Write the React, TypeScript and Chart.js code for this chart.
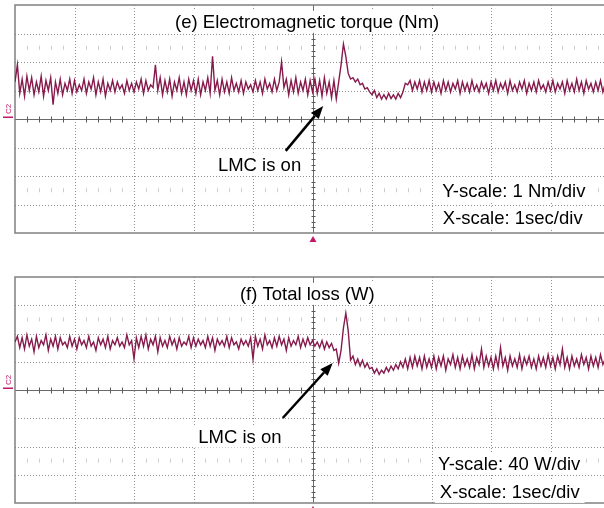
import React, { useEffect, useRef } from "react";
import { Chart, registerables } from "chart.js";
Chart.register(...registerables);

// time axis: 10 divisions (1 sec/div), sample step in divisions
const X_MIN = 0;
const X_MAX = 10;
const Y_MIN = -4;
const Y_MAX = 4;
const SAMPLE_STEP = 0.04;
const xGridValues = [1, 2, 3, 4, 6, 7, 8, 9];
const yGridValues = [-3, -2, -1, 1, 2, 3];
const faintRowValues = [2.5, -2.5];

// (e) electromagnetic torque, in divisions above the C2 reference line
const torqueValues = [
  1.3, 1.9, 0.9, 1.4, 0.8, 1.5, 1.0, 1.45, 0.85, 1.3, 0.95, 1.5, 0.8, 1.35, 1.0, 1.45, 0.5, 1.3, 0.9, 1.4, 0.85, 1.25, 1.0, 1.4, 0.9,
  1.35, 0.95, 1.2, 1.0, 1.4, 0.9, 1.3, 1.05, 1.45, 0.85, 1.3, 0.95, 1.4, 0.8, 1.25, 1.0, 1.35, 0.95, 1.3, 1.05, 1.2, 0.9, 1.35, 1.0, 1.25,
  0.95, 1.3, 1.05, 1.4, 0.9, 1.35, 1.0, 1.2, 1.1, 1.9, 1.0, 1.45, 0.85, 1.35, 0.95, 1.4, 0.8, 1.3, 1.0, 1.45, 0.9, 1.3, 0.85, 1.4, 1.0,
  1.35, 0.9, 1.4, 0.85, 1.3, 1.0, 1.45, 0.9, 2.2, 1.0, 1.35, 0.85, 1.4, 0.95, 1.3, 0.9, 1.45, 1.0, 1.25, 0.95, 1.35, 0.9, 1.3, 1.05, 1.2,
  0.95, 1.35, 1.0, 1.3, 0.9, 1.4, 1.05, 1.25, 0.95, 1.4, 1.0, 1.3, 2.0, 1.1, 1.4, 0.85, 1.35, 0.95, 1.45, 0.9, 1.3, 1.0, 1.4, 0.85, 1.35,
  0.95, 1.4, 0.9, 1.35, 0.8, 1.45, 0.9, 1.3, 0.75, 1.35, 0.7, 1.3, 1.9, 2.63, 2.2, 1.6, 1.4, 1.45, 1.3, 1.4, 1.2, 1.25, 1.05, 1.1, 0.95,
  0.85, 1.0, 0.75, 0.9, 0.7, 0.85, 0.7, 0.9, 0.72, 0.85, 0.7, 0.9, 0.75, 0.95, 1.25, 1.2, 1.35, 1.0, 1.3, 1.05, 1.35, 0.95, 1.3, 1.0, 1.35,
  0.95, 1.3, 1.0, 1.25, 0.9, 1.35, 1.0, 1.3, 0.95, 1.25, 1.05, 1.35, 0.9, 1.3, 1.0, 1.25, 0.95, 1.35, 1.0, 1.2, 0.95, 1.3, 1.05, 1.25, 0.9,
  1.3, 1.0, 1.35, 0.95, 1.25, 1.05, 1.3, 0.9, 1.35, 1.0, 1.2, 0.95, 1.3, 1.05, 1.35, 0.9, 1.25, 1.0, 1.3, 0.95, 1.35, 1.05, 1.2, 0.95, 1.3,
  1.0, 1.35, 0.95, 1.25, 1.05, 1.3, 0.9, 1.35, 1.0, 1.25, 0.95, 1.4, 1.0, 1.3, 0.9, 1.35, 1.05, 1.25, 0.95, 1.3, 1.0, 1.35, 0.95, 1.25, 1.05,
  1.1,
];

// (f) total loss, in divisions above the C2 reference line
const lossValues = [
  1.7, 1.9, 1.5, 1.85, 1.45, 1.95, 1.55, 1.8, 1.35, 1.9, 1.5, 1.75, 1.6, 1.95, 1.4, 1.8, 1.55, 1.9, 1.45, 1.85, 1.6, 1.7, 1.5, 1.9, 1.55,
  1.8, 1.45, 1.85, 1.6, 1.75, 1.5, 1.9, 1.55, 1.7, 1.4, 1.85, 1.6, 1.8, 1.5, 1.9, 1.45, 1.75, 1.6, 1.85, 1.55, 1.7, 1.5, 1.95, 1.6, 1.75,
  1.1, 1.85, 1.5, 1.9, 1.55, 1.95, 1.45, 1.8, 1.6, 1.9, 1.35, 1.85, 1.55, 1.75, 1.5, 1.9, 1.6, 1.8, 1.45, 1.85, 1.55, 1.7, 1.6, 1.9, 1.5,
  1.85, 1.55, 1.8, 1.6, 1.75, 1.5, 1.9, 1.55, 1.85, 1.4, 1.8, 1.6, 1.75, 1.55, 1.9, 1.5, 1.85, 1.6, 1.7, 1.45, 1.8, 1.6, 1.75, 1.55, 1.85,
  1.1, 1.9, 1.55, 1.8, 1.45, 1.95, 1.6, 1.75, 1.5, 1.85, 1.55, 1.9, 1.6, 1.8, 1.4, 1.85, 1.55, 1.75, 1.6, 1.9, 1.5, 1.8, 1.55, 1.85, 1.6,
  1.75, 1.55, 1.7, 1.5, 1.75, 1.45, 1.7, 1.5, 1.65, 1.4, 1.45, 0.95, 1.4, 2.2, 2.72, 2.1, 1.06, 1.2, 0.9, 1.1, 0.85, 1.05, 0.8, 0.95, 0.75,
  0.8, 0.6, 0.75, 0.55, 0.7, 0.6, 0.8, 0.65, 0.85, 0.7, 0.9, 0.75, 1.0, 0.8, 1.1, 0.75, 1.15, 0.8, 1.2, 0.85, 1.15, 0.75, 1.2, 0.8, 1.1,
  0.8, 1.2, 0.75, 1.15, 0.85, 1.2, 0.7, 1.1, 0.9, 1.25, 0.8, 1.15, 0.75, 1.2, 0.85, 1.1, 0.8, 1.25, 0.75, 1.15, 0.9, 1.45, 0.8, 1.2, 0.85,
  1.15, 0.75, 1.2, 0.8, 1.5, 0.85, 1.15, 0.7, 1.2, 0.85, 1.1, 0.8, 1.25, 0.75, 1.15, 0.9, 1.2, 0.8, 1.1, 0.75, 1.2, 0.85, 1.15, 0.8, 1.25,
  0.85, 1.15, 0.75, 1.2, 0.9, 1.45, 0.8, 1.15, 0.75, 1.2, 0.85, 1.1, 0.8, 1.25, 0.9, 1.15, 0.75, 1.2, 0.85, 1.15, 0.8, 1.25, 0.9, 1.1, 0.8,
  1.0,
];

// annotation texts (positions in data units: x divisions, y divisions at text baseline)
const torqueLabels = [
  { text: "(e) Electromagnetic torque (Nm)", x: 2.69, y: 3.2 },
  { text: "LMC is on", x: 3.41, y: -1.81 },
  { text: "Y-scale: 1 Nm/div", x: 7.18, y: -2.75 },
  { text: "X-scale: 1sec/div", x: 7.19, y: -3.68 },
];
const lossLabels = [
  { text: "(f) Total loss (W)", x: 3.78, y: 3.19 },
  { text: "LMC is on", x: 3.08, y: -1.86 },
  { text: "Y-scale: 40 W/div", x: 7.11, y: -2.83 },
  { text: "X-scale: 1sec/div", x: 7.14, y: -3.82 },
];
const torqueArrow = { from: [4.55, -1.12], to: [5.18, 0.46] };
const lossArrow = { from: [4.5, -0.99], to: [5.34, 0.96] };
const channelLabel = "C2";
const triggerPosition = 5;

const SIGNAL_COLOR = "#861a4c";
const MARKER_COLOR = "#c2186a";
const FONT = '"Liberation Sans", Arial, sans-serif';

type PanelCfg = {
  values: number[];
  labels: { text: string; x: number; y: number }[];
  arrow: { from: number[]; to: number[] };
  padding: { left: number; right: number; top: number; bottom: number };
};

function makeOscPlugin(cfg: PanelCfg) {
  return {
    id: "osc",
    beforeDatasetsDraw(chart: any) {
      const ctx = chart.ctx as CanvasRenderingContext2D;
      const { left, right, top, bottom } = chart.chartArea;
      const xs = chart.scales.x;
      const ys = chart.scales.y;
      ctx.save();
      // dotted grid
      ctx.strokeStyle = "#909090";
      ctx.lineWidth = 1;
      ctx.setLineDash([1, 2]);
      for (const v of xGridValues) {
        const x = Math.round(xs.getPixelForValue(v)) + 0.5;
        ctx.beginPath();
        ctx.moveTo(x, top);
        ctx.lineTo(x, bottom);
        ctx.stroke();
      }
      for (const v of yGridValues) {
        const y = Math.round(ys.getPixelForValue(v)) + 0.5;
        ctx.beginPath();
        ctx.moveTo(left, y);
        ctx.lineTo(right, y);
        ctx.stroke();
      }
      ctx.setLineDash([]);
      // faint minor-tick rows
      ctx.strokeStyle = "#cdcdcd";
      for (const r of faintRowValues) {
        const y = ys.getPixelForValue(r);
        for (let k = 1; k < 50; k++) {
          if (k % 5 === 0) continue;
          const x = Math.round(xs.getPixelForValue(k * 0.2)) + 0.5;
          ctx.beginPath();
          ctx.moveTo(x, y - 2);
          ctx.lineTo(x, y + 2);
          ctx.stroke();
        }
      }
      // center lines (solid)
      const cx = Math.round(xs.getPixelForValue(triggerPosition)) + 0.5;
      const cy = Math.round(ys.getPixelForValue(0)) + 0.5;
      ctx.strokeStyle = "#6a6a6a";
      ctx.lineWidth = 1;
      ctx.beginPath();
      ctx.moveTo(cx, top);
      ctx.lineTo(cx, bottom);
      ctx.moveTo(left, cy);
      ctx.lineTo(right, cy);
      ctx.stroke();
      // minor ticks on center lines
      ctx.strokeStyle = "#5a5a5a";
      for (let k = 1; k < 50; k++) {
        if (k % 5 === 0) continue;
        const x = Math.round(xs.getPixelForValue(k * 0.2)) + 0.5;
        ctx.beginPath();
        ctx.moveTo(x, cy - 3);
        ctx.lineTo(x, cy + 3);
        ctx.stroke();
      }
      for (let k = -19; k < 20; k++) {
        if (k % 5 === 0) continue;
        const y = Math.round(ys.getPixelForValue(k * 0.2)) + 0.5;
        ctx.beginPath();
        ctx.moveTo(cx - 2, y);
        ctx.lineTo(cx + 2, y);
        ctx.stroke();
      }
      // border
      ctx.strokeStyle = "#808080";
      ctx.lineWidth = 1.5;
      ctx.strokeRect(left, top, right - left, bottom - top);
      ctx.restore();
    },
    afterDatasetsDraw(chart: any) {
      const ctx = chart.ctx as CanvasRenderingContext2D;
      const { bottom } = chart.chartArea;
      const xs = chart.scales.x;
      const ys = chart.scales.y;
      ctx.save();
      // labels with white boxes
      ctx.font = `18.5px ${FONT}`;
      ctx.textAlign = "left";
      ctx.textBaseline = "alphabetic";
      for (const l of cfg.labels) {
        const x = xs.getPixelForValue(l.x);
        const y = ys.getPixelForValue(l.y);
        const w = ctx.measureText(l.text).width;
        ctx.fillStyle = "#ffffff";
        ctx.fillRect(x - 5, y - 17, w + 10, 22);
        ctx.fillStyle = "#000000";
        ctx.fillText(l.text, x, y);
      }
      // arrow
      const x1 = xs.getPixelForValue(cfg.arrow.from[0]);
      const y1 = ys.getPixelForValue(cfg.arrow.from[1]);
      const x2 = xs.getPixelForValue(cfg.arrow.to[0]);
      const y2 = ys.getPixelForValue(cfg.arrow.to[1]);
      const ang = Math.atan2(y2 - y1, x2 - x1);
      const headLen = 13;
      const headW = 5;
      const bx = x2 - headLen * Math.cos(ang);
      const by = y2 - headLen * Math.sin(ang);
      ctx.strokeStyle = "#000";
      ctx.fillStyle = "#000";
      ctx.lineWidth = 2.5;
      ctx.beginPath();
      ctx.moveTo(x1, y1);
      ctx.lineTo(bx, by);
      ctx.stroke();
      ctx.beginPath();
      ctx.moveTo(x2, y2);
      ctx.lineTo(bx + headW * Math.sin(ang), by - headW * Math.cos(ang));
      ctx.lineTo(bx - headW * Math.sin(ang), by + headW * Math.cos(ang));
      ctx.closePath();
      ctx.fill();
      // trigger marker
      const tx = xs.getPixelForValue(triggerPosition) + 0.5;
      ctx.fillStyle = MARKER_COLOR;
      ctx.beginPath();
      ctx.moveTo(tx, bottom + 3);
      ctx.lineTo(tx - 3.5, bottom + 9);
      ctx.lineTo(tx + 3.5, bottom + 9);
      ctx.closePath();
      ctx.fill();
      // channel label
      const cy = ys.getPixelForValue(0);
      ctx.fillStyle = MARKER_COLOR;
      ctx.fillRect(3, cy - 2.5, 10, 1.5);
      ctx.save();
      ctx.translate(11, cy - 5);
      ctx.rotate(-Math.PI / 2);
      ctx.font = `8px ${FONT}`;
      ctx.fillText(channelLabel, 0, 0);
      ctx.restore();
      ctx.restore();
    },
  };
}

function Panel({ cfg, top, height }: { cfg: PanelCfg; top: number; height: number }) {
  const ref = useRef<HTMLCanvasElement | null>(null);
  useEffect(() => {
    if (!ref.current) return;
    const points = cfg.values.map((v, i) => ({ x: i * SAMPLE_STEP, y: v }));
    const chart = new Chart(ref.current, {
      type: "line",
      data: {
        datasets: [
          {
            data: points,
            borderColor: SIGNAL_COLOR,
            borderWidth: 1.4,
            pointRadius: 0,
            tension: 0,
            fill: false,
          },
        ],
      },
      options: {
        responsive: false,
        animation: false,
        events: [],
        layout: { padding: cfg.padding },
        scales: {
          x: { type: "linear", min: X_MIN, max: X_MAX, display: false },
          y: { type: "linear", min: Y_MIN, max: Y_MAX, display: false },
        },
        plugins: { legend: { display: false }, tooltip: { enabled: false } },
      },
      plugins: [makeOscPlugin(cfg)],
    } as any);
    return () => chart.destroy();
  }, [cfg]);
  return (
    <canvas
      ref={ref}
      width={620}
      height={height}
      style={{ position: "absolute", left: 0, top, width: 620, height }}
    />
  );
}

const torquePanel: PanelCfg = {
  values: torqueValues,
  labels: torqueLabels,
  arrow: torqueArrow,
  padding: { left: 15, right: 10, top: 5, bottom: 17 },
};
const lossPanel: PanelCfg = {
  values: lossValues,
  labels: lossLabels,
  arrow: lossArrow,
  padding: { left: 15, right: 10, top: 22, bottom: 5 },
};

export default function App() {
  return (
    <div
      style={{
        position: "fixed",
        left: 0,
        top: 0,
        width: 604,
        height: 508,
        overflow: "hidden",
        background: "#ffffff",
      }}
    >
      <Panel cfg={torquePanel} top={0} height={250} />
      <Panel cfg={lossPanel} top={255} height={253} />
    </div>
  );
}
